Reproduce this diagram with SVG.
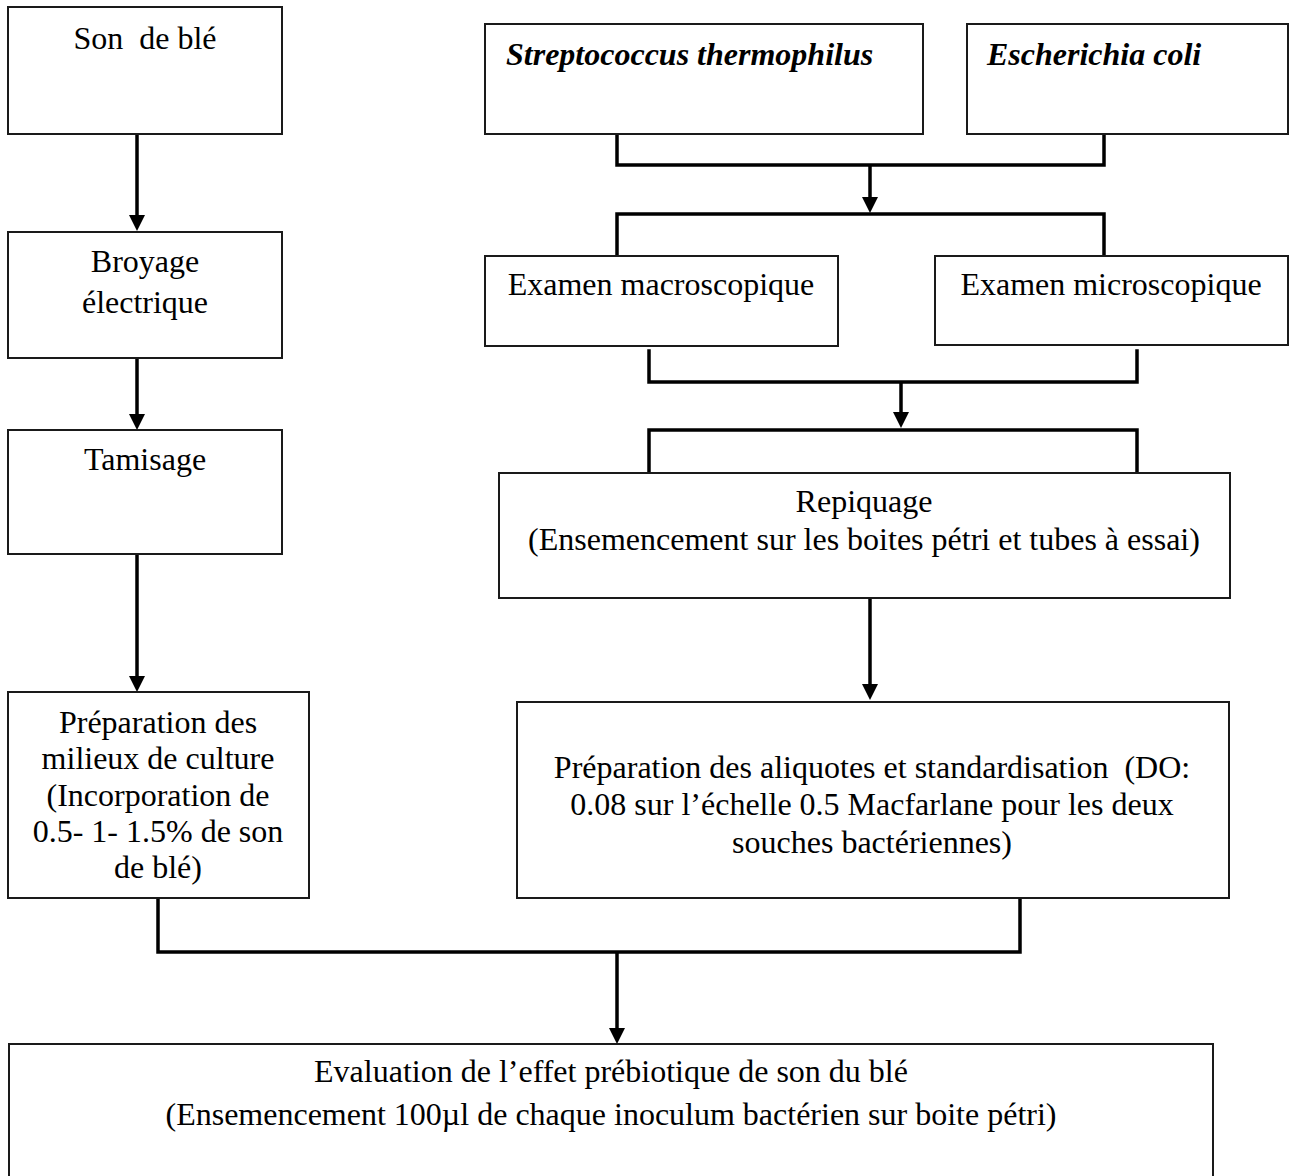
<svg xmlns="http://www.w3.org/2000/svg" width="1296" height="1176" viewBox="0 0 1296 1176">
<style>
  .box { fill: #ffffff; stroke: #1a1a1a; stroke-width: 2; }
  .t { font-family: "Liberation Serif", "Times New Roman", serif; font-size: 32px; fill: #000; }
  .c { text-anchor: middle; }
  .sp { font-weight: bold; font-style: italic; }
  .conn { fill: none; stroke: #000; stroke-width: 3.5; stroke-linejoin: miter; stroke-linecap: square; }
  .arr { fill: none; stroke: #000; stroke-width: 3.5; stroke-linecap: butt; }
</style>
<defs>
  <marker id="ah" markerUnits="userSpaceOnUse" viewBox="0 0 16 16" markerWidth="16" markerHeight="16" refX="8" refY="8" orient="auto">
    <path d="M0,0 L16,8 L0,16 Z" fill="#000"/>
  </marker>
</defs>
<rect width="1296" height="1176" fill="#ffffff"/>

<g id="connectors">
  <line class="arr" x1="137" y1="134" x2="137" y2="223" marker-end="url(#ah)"/>
  <line class="arr" x1="137" y1="358" x2="137" y2="422" marker-end="url(#ah)"/>
  <line class="arr" x1="137" y1="554" x2="137" y2="684" marker-end="url(#ah)"/>
  <polyline class="conn" points="617,136 617,165 1104,165 1104,136"/>
  <line class="arr" x1="870" y1="165" x2="870" y2="205" marker-end="url(#ah)"/>
  <polyline class="conn" points="617,255 617,214 1104,214 1104,255"/>
  <polyline class="conn" points="649,351 649,382 1137,382 1137,351"/>
  <line class="arr" x1="901" y1="382" x2="901" y2="420" marker-end="url(#ah)"/>
  <polyline class="conn" points="649,472 649,430 1137,430 1137,472"/>
  <line class="arr" x1="870" y1="598" x2="870" y2="692" marker-end="url(#ah)"/>
  <polyline class="conn" points="158,900 158,952 1020,952 1020,900"/>
  <line class="arr" x1="617" y1="952" x2="617" y2="1036" marker-end="url(#ah)"/>
</g>

<g id="node-son">
  <rect class="box" x="8" y="7" width="274" height="127"/>
  <text class="t c" x="145" y="49" xml:space="preserve">Son  de blé</text>
</g>
<g id="node-broyage">
  <rect class="box" x="8" y="232" width="274" height="126"/>
  <text class="t c" x="145" y="272">Broyage</text>
  <text class="t c" x="145" y="313">électrique</text>
</g>
<g id="node-tamisage">
  <rect class="box" x="8" y="430" width="274" height="124"/>
  <text class="t c" x="145" y="470">Tamisage</text>
</g>
<g id="node-milieux">
  <rect class="box" x="8" y="692" width="301" height="206"/>
  <text class="t c" x="158" y="733">Préparation des</text>
  <text class="t c" x="158" y="769">milieux de culture</text>
  <text class="t c" x="158" y="806">(Incorporation de</text>
  <text class="t c" x="158" y="842">0.5- 1- 1.5% de son</text>
  <text class="t c" x="158" y="878">de blé)</text>
</g>
<g id="node-strep">
  <rect class="box" x="485" y="24" width="438" height="110"/>
  <text class="t sp" x="506" y="65">Streptococcus thermophilus</text>
</g>
<g id="node-ecoli">
  <rect class="box" x="967" y="24" width="321" height="110"/>
  <text class="t sp" x="987" y="65">Escherichia coli</text>
</g>
<g id="node-macro">
  <rect class="box" x="485" y="256" width="353" height="90"/>
  <text class="t c" x="661" y="295">Examen macroscopique</text>
</g>
<g id="node-micro">
  <rect class="box" x="935" y="256" width="353" height="89"/>
  <text class="t c" x="1111" y="295">Examen microscopique</text>
</g>
<g id="node-repiquage">
  <rect class="box" x="499" y="473" width="731" height="125"/>
  <text class="t c" x="864" y="512">Repiquage</text>
  <text class="t c" x="864" y="550">(Ensemencement sur les boites pétri et tubes à essai)</text>
</g>
<g id="node-aliquotes">
  <rect class="box" x="517" y="702" width="712" height="196"/>
  <text class="t c" x="872" y="778" xml:space="preserve">Préparation des aliquotes et standardisation  (DO:</text>
  <text class="t c" x="872" y="815">0.08 sur l’échelle 0.5 Macfarlane pour les deux</text>
  <text class="t c" x="872" y="853">souches bactériennes)</text>
</g>
<g id="node-evaluation">
  <rect class="box" x="9" y="1044" width="1204" height="160"/>
  <text class="t c" x="611" y="1082">Evaluation de l’effet prébiotique de son du blé</text>
  <text class="t c" x="611" y="1125">(Ensemencement 100µl de chaque inoculum bactérien sur boite pétri)</text>
</g>
</svg>
